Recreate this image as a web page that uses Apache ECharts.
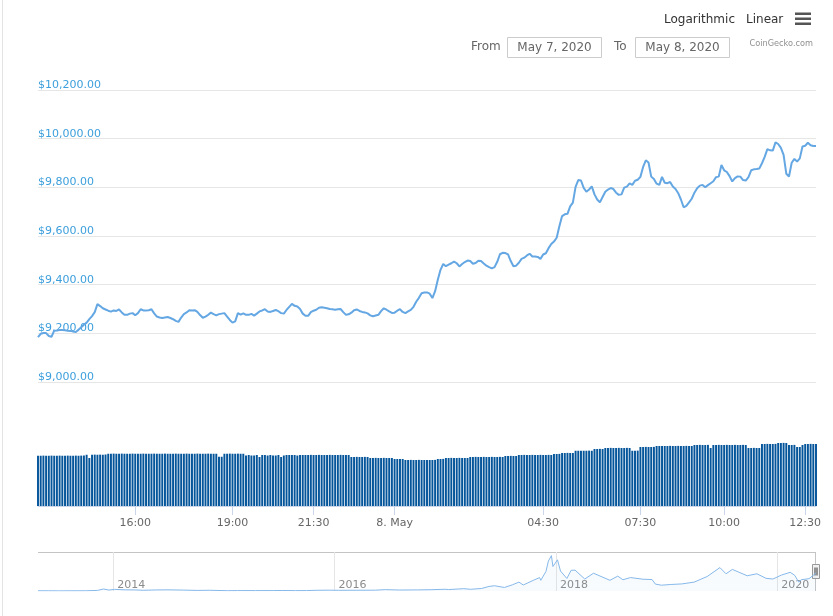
<!DOCTYPE html>
<html>
<head>
<meta charset="utf-8">
<script src="https://cdn.jsdelivr.net/npm/echarts@6/dist/echarts.min.js"></script>
<style>
html,body{margin:0;padding:0;background:#fff;}
#chart{width:833px;height:616px;}
</style>
</head>
<body>
<div id="chart"></div>
<script>
// ---- Price (USD), one value per ~5 minutes, 7 May 13:00 -> 8 May ~12:55 ----
const priceValues = [
9184,9198,9201,9201,9189,9186,9211,9212,9214,9214,
9213,9211,9210,9207,9205,9215,9225,9235,9244,9258,
9271,9287,9320,9312,9303,9298,9293,9289,9294,9292,
9298,9286,9276,9276,9281,9283,9274,9283,9299,9294,
9294,9295,9299,9282,9269,9265,9263,9265,9267,9263,
9258,9251,9247,9265,9279,9286,9295,9294,9295,9288,
9275,9264,9269,9276,9285,9279,9274,9279,9281,9283,
9269,9255,9244,9249,9283,9277,9282,9276,9276,9280,
9273,9281,9290,9294,9299,9290,9288,9292,9296,9291,
9283,9281,9296,9309,9321,9313,9310,9300,9281,9272,
9272,9287,9293,9297,9305,9307,9305,9303,9300,9299,
9297,9299,9300,9287,9276,9278,9285,9295,9298,9292,
9288,9286,9282,9274,9270,9273,9276,9291,9303,9297,
9290,9284,9285,9293,9299,9288,9283,9290,9296,9309,
9330,9346,9365,9368,9368,9363,9345,9373,9420,9461,
9485,9476,9482,9488,9495,9488,9475,9485,9493,9499,
9497,9486,9489,9498,9497,9487,9478,9472,9467,9472,
9494,9525,9531,9530,9524,9497,9476,9478,9490,9506,
9511,9520,9527,9516,9516,9514,9506,9524,9529,9550,
9567,9577,9593,9640,9682,9689,9691,9722,9737,9802,
9830,9828,9798,9782,9791,9804,9771,9750,9738,9760,
9782,9791,9797,9793,9778,9769,9771,9799,9803,9816,
9810,9827,9831,9843,9884,9911,9902,9844,9834,9815,
9810,9843,9819,9817,9822,9803,9793,9776,9750,9718,
9724,9738,9753,9778,9796,9807,9810,9800,9809,9817,
9825,9842,9844,9892,9870,9863,9846,9824,9838,9845,
9844,9830,9828,9842,9870,9874,9875,9877,9899,9925,
9957,9952,9951,9985,9978,9962,9933,9856,9844,9901,
9917,9906,9919,9968,9971,9983,9973,9970,9970
];

// ---- 24h volume (billion USD), same points ----
const volumeValues = [
40.2,40.2,40.3,40.2,40.2,40.3,40.2,40.2,40.3,40.2,40.2,40.3,40.2,40.2,40.3,40.2,40.3,40.4,
41.0,38.4,41.0,41.1,41.0,41.1,41.0,41.2,
41.8,41.8,41.9,41.8,41.8,41.9,41.8,41.8,41.8,41.9,41.8,41.8,41.8,41.9,41.8,41.8,41.8,41.9,41.8,41.8,
41.8,41.9,41.8,41.8,41.8,41.9,41.8,41.8,41.8,41.9,41.8,41.8,41.8,41.9,41.8,41.8,41.8,41.9,41.8,41.8,41.8,
39.4,39.4,
41.8,41.8,41.9,41.8,41.8,41.9,41.8,41.8,
40.4,40.8,40.4,40.4,40.8,39.2,40.8,40.8,40.4,40.8,40.4,40.4,40.8,39.2,40.4,40.8,40.8,40.8,40.8,40.4,40.8,40.8,
40.8,40.8,40.9,40.8,40.8,40.9,40.8,40.8,40.8,40.9,40.8,40.8,40.8,40.9,40.8,40.8,40.8,
39.2,39.2,39.3,39.2,39.2,39.3,39.2,
38.4,38.4,38.5,38.4,38.4,38.5,38.4,38.4,38.4,
37.6,37.6,37.7,37.6,
36.8,36.8,36.9,36.8,36.8,36.9,36.8,36.8,36.9,36.8,36.8,36.9,
37.6,37.6,37.7,
38.4,38.4,38.5,38.4,38.4,38.5,38.4,38.4,38.4,
39.2,39.2,39.3,39.2,39.2,39.3,39.2,39.2,39.3,39.2,39.2,39.3,39.2,
40.0,40.0,40.1,40.0,40.0,
40.8,40.8,40.9,40.8,40.8,40.9,40.8,40.8,40.9,40.8,40.8,40.9,40.8,
41.6,41.6,41.7,
42.4,42.4,42.5,42.4,42.4,
44.2,44.2,44.3,44.2,44.2,44.3,44.2,
45.6,45.6,45.7,45.6,
46.4,46.4,46.5,46.4,46.4,46.5,46.4,46.4,46.5,46.4,
44.2,44.2,44.3,
47.2,47.2,47.3,47.2,47.2,47.3,
48.0,48.0,48.1,48.0,48.0,48.1,48.0,48.0,48.1,48.0,48.0,48.1,48.0,48.0,
48.8,48.8,48.9,48.8,48.8,48.9,
46.4,
48.8,48.8,48.9,48.8,48.8,48.9,48.8,48.8,48.9,48.8,48.8,48.9,48.8,
46.4,46.4,46.5,46.4,46.4,
49.6,49.6,49.7,49.6,49.6,49.7,
50.4,50.4,50.5,50.4,
48.8,48.8,48.9,
47.2,47.2,
48.8,
49.6,49.6,49.7,49.6,49.6
];

// ---- x-axis tick labels and their clock times (minutes after 7 May 00:00) ----
const tickLabels  = ['16:00','19:00','21:30','8. May','04:30','07:30','10:00','12:30'];
const tickMinutes = [960, 1140, 1290, 1440, 1710, 1890, 2040, 2190];

// ---- price axis ticks ----
const priceTicks = [9000, 9200, 9400, 9600, 9800, 10000, 10200];

// ---- navigator: full price history ----
const navDates = [
'2013-04-28','2013-06-01','2013-07-05','2013-08-15','2013-10-01','2013-11-10','2013-11-30','2013-12-18',
'2014-01-05','2014-02-10','2014-03-15','2014-04-10','2014-05-25','2014-07-01','2014-08-20','2014-10-05','2014-11-15',
'2015-01-14','2015-02-15','2015-04-15','2015-06-15','2015-07-15','2015-08-25','2015-10-01','2015-11-04','2015-12-15',
'2016-01-15','2016-03-15','2016-05-15','2016-06-17','2016-08-02','2016-10-01','2016-11-15','2016-12-31',
'2017-01-05','2017-01-12','2017-03-03','2017-03-25','2017-05-01','2017-05-25','2017-06-12','2017-07-15','2017-08-10',
'2017-09-01','2017-09-15','2017-10-20','2017-11-08','2017-11-12','2017-11-29','2017-12-07','2017-12-17','2017-12-22',
'2018-01-06','2018-01-16','2018-02-06','2018-02-20','2018-03-05','2018-04-06','2018-05-05','2018-06-28','2018-07-24',
'2018-08-10','2018-09-04','2018-10-15','2018-11-14','2018-11-25','2018-12-15',
'2019-01-15','2019-02-20','2019-04-02','2019-05-15','2019-06-26','2019-07-16','2019-08-06','2019-09-24','2019-10-26',
'2019-11-25','2019-12-18','2020-01-15','2020-02-13','2020-02-28','2020-03-12','2020-03-20','2020-04-15','2020-04-30','2020-05-08'
];
const navPrices = [
135,120,80,105,125,320,1100,520,
900,650,600,400,600,640,500,320,400,
180,240,220,240,290,210,240,400,450,
380,415,455,750,540,610,710,960,
1100,800,1280,940,1400,2500,2900,1950,3400,
4900,3300,6000,7400,5900,10800,16500,19500,13500,
17200,11000,6900,11400,11500,6600,9800,5900,8200,
6200,7400,6500,6300,3800,3200,
3600,3900,4900,8000,12900,9500,11900,8400,9500,
7000,6600,8800,10300,8600,4900,6200,6800,8800,9950
];
const navYearLabels = ['2014','2016','2018','2020'];

// ---------- build axis helpers ----------
const categories = [];
{
  let m = 780; // 13:00 on 7 May
  for (let i = 0; i < priceValues.length; i++) {
    categories.push(String(Math.round(m)));
    m += (i < 132) ? 5 : 4.93;
  }
}
const labelByIdx = {};
tickMinutes.forEach((tm, k) => {
  let best = 0, bd = Infinity;
  categories.forEach((c, i) => { const d = Math.abs(+c - tm); if (d < bd) { bd = d; best = i; } });
  labelByIdx[best] = tickLabels[k];
});
const isTickIdx = (idx) => labelByIdx[idx] !== undefined;

const toTs = (s) => { const p = s.split('-'); return new Date(+p[0], +p[1] - 1, +p[2]).getTime(); };
const navYearTs = navYearLabels.map(y => new Date(+y, 0, 1).getTime());
const navData = navDates.map((d, i) => [toTs(d), navPrices[i]]);

const FONT = 'DejaVu Sans';
const chart = echarts.init(document.getElementById('chart'), null, {renderer: 'canvas'});

const option = {
  animation: false,
  backgroundColor: '#ffffff',
  textStyle: {fontFamily: FONT},
  grid: [
    {left: 38, right: 17, top: 90, height: 292},
    {left: 38, right: 17, top: 431, height: 75},
    {left: 38, right: 17, top: 552, height: 39}
  ],
  xAxis: [
    {type: 'category', gridIndex: 0, data: categories, boundaryGap: false, show: false},
    {type: 'category', gridIndex: 1, data: categories, boundaryGap: false,
      axisLine: {show: true, lineStyle: {color: '#ccd6eb'}},
      axisTick: {show: true, interval: (i) => isTickIdx(i), length: 9, lineStyle: {color: '#ccd6eb'}},
      axisLabel: {show: true, interval: (i) => isTickIdx(i), formatter: (v, i) => labelByIdx[i] || '',
        color: '#666666', fontSize: 11, fontFamily: FONT, margin: 12},
      splitLine: {show: false}},
    {type: 'value', gridIndex: 2, min: navData[0][0], max: navData[navData.length - 1][0],
      axisLine: {show: false},
      axisTick: {show: false, customValues: navYearTs},
      axisLabel: {show: true, inside: true, customValues: navYearTs, align: 'left', verticalAlign: 'bottom',
        margin: 0, padding: [0, 0, 0, 4], color: '#8c8c8c', fontSize: 11, fontFamily: FONT,
        formatter: (v) => String(new Date(v).getFullYear())},
      splitLine: {show: true, lineStyle: {color: '#e6e6e6', width: 1}}}
  ],
  yAxis: [
    {type: 'value', gridIndex: 0, min: priceTicks[0], max: priceTicks[priceTicks.length - 1], interval: 200,
      axisLine: {show: false}, axisTick: {show: false},
      splitLine: {show: true, lineStyle: {color: '#e6e6e6', width: 1}},
      axisLabel: {inside: true, margin: 0, verticalAlign: 'bottom', color: '#3d9fdc', fontSize: 11, fontFamily: FONT,
        lineHeight: 10, padding: 0,
        formatter: (v) => '$' + v.toLocaleString('en-US', {minimumFractionDigits: 2, maximumFractionDigits: 2})}},
    {type: 'value', gridIndex: 1, min: 0, max: 60, show: false, splitLine: {show: false}},
    {type: 'value', gridIndex: 2, min: 0, max: 21500, show: false, splitLine: {show: false}}
  ],
  series: [
    {type: 'line', name: 'Price', xAxisIndex: 0, yAxisIndex: 0, data: priceValues, symbol: 'none',
      lineStyle: {color: '#64a7e3', width: 2}, itemStyle: {color: '#64a7e3'}},
    {type: 'bar', name: 'Volume', xAxisIndex: 1, yAxisIndex: 1, data: volumeValues,
      barCategoryGap: '28%', itemStyle: {color: '#05559a'}},
    {type: 'line', name: 'Navigator', xAxisIndex: 2, yAxisIndex: 2,
      data: navData, symbol: 'none',
      lineStyle: {color: '#86b8ea', width: 1}, areaStyle: {color: 'rgba(124,181,236,0.08)'}}
  ],
  graphic: [
    {type: 'line', shape: {x1: 2.5, y1: 0, x2: 2.5, y2: 616}, style: {stroke: '#e3e3e3', lineWidth: 1}},
    {type: 'text', x: 664, y: 20, style: {text: 'Logarithmic', fontSize: 12, fontFamily: FONT, fill: '#333333', align: 'left', verticalAlign: 'middle'}},
    {type: 'text', x: 746, y: 20, style: {text: 'Linear', fontSize: 12, fontFamily: FONT, fill: '#333333', align: 'left', verticalAlign: 'middle'}},
    {type: 'rect', shape: {x: 795, y: 12.5, width: 16, height: 2.5}, style: {fill: '#555555'}},
    {type: 'rect', shape: {x: 795, y: 17.5, width: 16, height: 2.5}, style: {fill: '#555555'}},
    {type: 'rect', shape: {x: 795, y: 22.5, width: 16, height: 2.5}, style: {fill: '#555555'}},
    {type: 'text', x: 471, y: 47, style: {text: 'From', fontSize: 12, fontFamily: FONT, fill: '#666666', align: 'left', verticalAlign: 'middle'}},
    {type: 'rect', shape: {x: 507.5, y: 37.5, width: 94, height: 20}, style: {fill: '#ffffff', stroke: '#cccccc', lineWidth: 1}},
    {type: 'text', x: 554.5, y: 47.5, style: {text: 'May 7, 2020', fontSize: 12, fontFamily: FONT, fill: '#666666', align: 'center', verticalAlign: 'middle'}},
    {type: 'text', x: 614, y: 47, style: {text: 'To', fontSize: 12, fontFamily: FONT, fill: '#666666', align: 'left', verticalAlign: 'middle'}},
    {type: 'rect', shape: {x: 635.5, y: 37.5, width: 94, height: 20}, style: {fill: '#ffffff', stroke: '#cccccc', lineWidth: 1}},
    {type: 'text', x: 682.5, y: 47.5, style: {text: 'May 8, 2020', fontSize: 12, fontFamily: FONT, fill: '#666666', align: 'center', verticalAlign: 'middle'}},
    {type: 'text', x: 813, y: 43.5, style: {text: 'CoinGecko.com', fontSize: 8.2, fontFamily: FONT, fill: '#909090', align: 'right', verticalAlign: 'middle'}},
    {type: 'line', shape: {x1: 38, y1: 552.5, x2: 816, y2: 552.5}, style: {stroke: '#c4c4c4', lineWidth: 1}},
    {type: 'line', shape: {x1: 815.5, y1: 552.5, x2: 815.5, y2: 591}, style: {stroke: '#c4c4c4', lineWidth: 1}},
    {type: 'rect', shape: {x: 812.5, y: 564.5, width: 7, height: 14}, style: {fill: '#f2f2f2', stroke: '#999999', lineWidth: 1}},
    {type: 'line', shape: {x1: 815, y1: 567.5, x2: 815, y2: 575.5}, style: {stroke: '#333333', lineWidth: 1}},
    {type: 'line', shape: {x1: 817, y1: 567.5, x2: 817, y2: 575.5}, style: {stroke: '#333333', lineWidth: 1}}
  ]
};
chart.setOption(option);
</script>
</body>
</html>
